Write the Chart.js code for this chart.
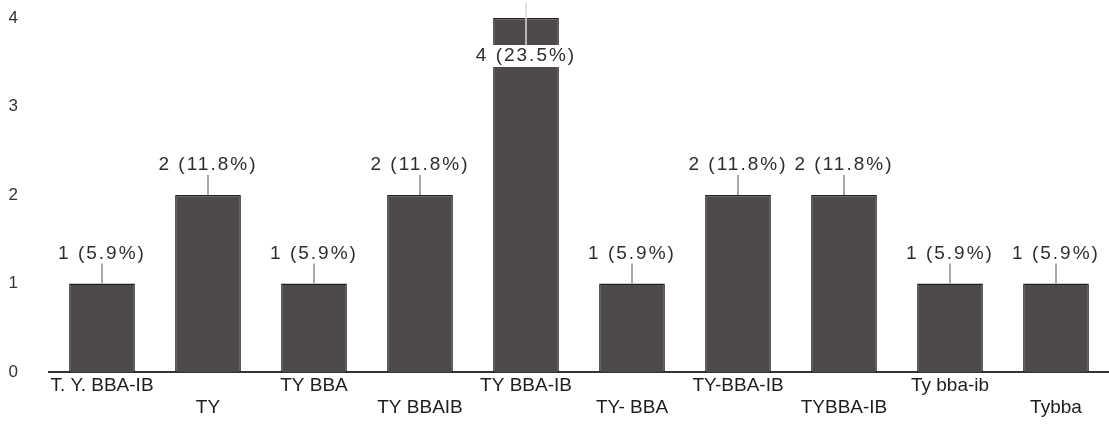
<!DOCTYPE html>
<html>
<head>
<meta charset="utf-8">
<script src="https://cdn.jsdelivr.net/npm/chart.js@4/dist/chart.umd.min.js"></script>
<style>
  html, body { margin: 0; padding: 0; background: #fff; }
  #wrap { width: 1109px; height: 446px; position: relative; }
</style>
</head>
<body>
<div id="wrap"><canvas id="barChart"></canvas></div>
<script>
// categories, staggered onto two rows like the original
const categories = ['T. Y. BBA-IB', 'TY', 'TY BBA', 'TY BBAIB', 'TY BBA-IB',
                    'TY- BBA', 'TY-BBA-IB', 'TYBBA-IB', 'Ty bba-ib', 'Tybba'];
const counts = [1, 2, 1, 2, 4, 1, 2, 2, 1, 1];
const percents = ['5.9', '11.8', '5.9', '11.8', '23.5', '5.9', '11.8', '11.8', '5.9', '5.9'];
const yTicks = [0, 1, 2, 3, 4];

const tickLabels = categories.map((c, i) => i % 2 === 0 ? c : ['', c]);

// value labels with a small leader line above each bar
const barLabels = {
  id: 'barLabels',
  afterDatasetsDraw(chart) {
    const ctx = chart.ctx;
    const meta = chart.getDatasetMeta(0);
    const top = chart.chartArea.top;
    ctx.save();
    ctx.font = '19px "Liberation Sans", Arial, sans-serif';
    if ('letterSpacing' in ctx) ctx.letterSpacing = '2px';
    ctx.textAlign = 'center';
    ctx.textBaseline = 'middle';
    ctx.lineWidth = 1.5;
    meta.data.forEach((bar, i) => {
      const text = counts[i] + ' (' + percents[i] + '%)';
      let cy = bar.y - 30;
      if (cy < top + 10) {
        // no room above: put it on the bar with a white box
        cy = bar.y + 38;
        const w = ctx.measureText(text).width;
        ctx.fillStyle = '#fff';
        ctx.fillRect(bar.x - w / 2 - 2, cy - 11, w + 4, 22);
        ctx.strokeStyle = '#d8d8d8';
        ctx.beginPath();
        ctx.moveTo(bar.x, Math.max(bar.y - 16, 1));
        ctx.lineTo(bar.x, cy - 11);
        ctx.stroke();
      } else {
        ctx.strokeStyle = '#8a8a8a';
        ctx.beginPath();
        ctx.moveTo(bar.x, cy + 10);
        ctx.lineTo(bar.x, bar.y);
        ctx.stroke();
      }
      ctx.fillStyle = '#2e2e2e';
      ctx.fillText(text, bar.x, cy);
    });
    ctx.restore();
  }
};

const ctx = document.getElementById('barChart').getContext('2d');
const chart = new Chart(ctx, {
  type: 'bar',
  data: {
    labels: tickLabels,
    datasets: [{
      data: counts,
      backgroundColor: '#4e494a',
      borderColor: '#222020',
      borderWidth: 1.5,
      categoryPercentage: 1,
      barPercentage: 0.62
    }]
  },
  options: {
    responsive: true,
    maintainAspectRatio: false,
    animation: false,
    layout: { padding: { top: 18, right: 0, bottom: 0, left: 0 } },
    plugins: {
      legend: { display: false },
      tooltip: { enabled: false }
    },
    scales: {
      x: {
        grid: { display: false },
        border: { display: true, color: '#333', width: 2 },
        ticks: {
          autoSkip: false,
          maxRotation: 0,
          padding: -5,
          color: '#1e1e1e',
          font: { family: '"Liberation Sans", Arial, sans-serif', size: 19, lineHeight: 1.16 }
        },
        afterFit: (scale) => {
          scale.height = 74;
          scale.paddingLeft = 0; scale.paddingRight = 0;
          scale.paddingTop = 0; scale.paddingBottom = 0;
        }
      },
      y: {
        min: 0,
        max: 4,
        grid: { display: false, drawTicks: false },
        border: { display: false },
        afterBuildTicks: (scale) => { scale.ticks = yTicks.map(v => ({ value: v })); },
        ticks: {
          stepSize: 1,
          padding: 31,
          color: '#333',
          font: { family: '"Liberation Sans", Arial, sans-serif', size: 17 }
        },
        afterFit: (scale) => {
          scale.width = 49;
          scale.paddingTop = 0; scale.paddingBottom = 0;
        }
      }
    }
  },
  plugins: [barLabels]
});
</script>
</body>
</html>
